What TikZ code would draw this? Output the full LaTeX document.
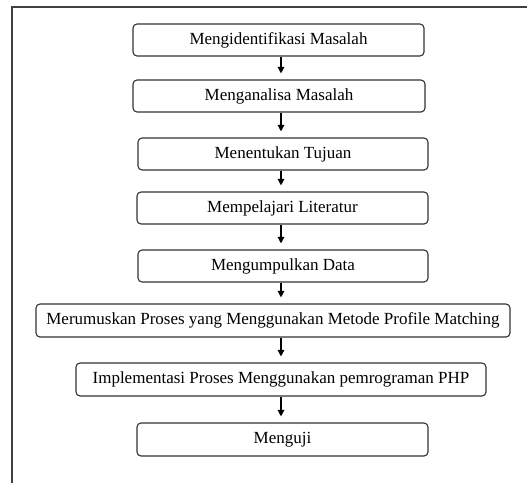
\documentclass[tikz,border=0pt]{standalone}
\usepackage{fontspec}
\setmainfont{Liberation Serif}
\usetikzlibrary{arrows.meta}
\begin{document}
\begin{tikzpicture}[x=1pt,y=-1pt,
  stepbox/.style={draw=black!80,line width=1.1pt,rounded corners=4pt,inner sep=0pt,
    font=\fontsize{17}{19}\selectfont},
  arr/.style={line width=1.3pt,-{Triangle[length=6.5pt,width=6.5pt]},shorten >=6pt},
  frame/.style={draw=black!75,line width=1.6pt}]
\useasboundingbox (0,0) rectangle (527,483);
\draw[frame] (527,7) -- (12,7) -- (12,483);
\node[stepbox,minimum width=291pt,minimum height=32pt] (b1) at (278.5,40) {Mengidentifikasi Masalah};
\node[stepbox,minimum width=292pt,minimum height=32pt] (b2) at (279,96) {Menganalisa Masalah};
\node[stepbox,minimum width=290pt,minimum height=32pt] (b3) at (283,154) {Menentukan Tujuan};
\node[stepbox,minimum width=291pt,minimum height=32pt] (b4) at (282.5,208) {Mempelajari Literatur};
\node[stepbox,minimum width=290pt,minimum height=32pt] (b5) at (283,266) {Mengumpulkan Data};
\node[stepbox,minimum width=474pt,minimum height=33pt] (b6) at (273,320.5) {Merumuskan Proses yang Menggunakan Metode Profile Matching};
\node[stepbox,minimum width=410pt,minimum height=33pt] (b7) at (281,379.5) {Implementasi Proses Menggunakan pemrograman PHP};
\node[stepbox,minimum width=291pt,minimum height=33pt] (b8) at (282.5,439.5) {Menguji};
\coordinate (ax) at (281,0);
\foreach \a/\b in {b1/b2,b2/b3,b3/b4,b4/b5,b5/b6,b6/b7,b7/b8}
  \draw[arr] (\a.south -| ax) -- (\b.north -| ax);
\end{tikzpicture}
\end{document}
